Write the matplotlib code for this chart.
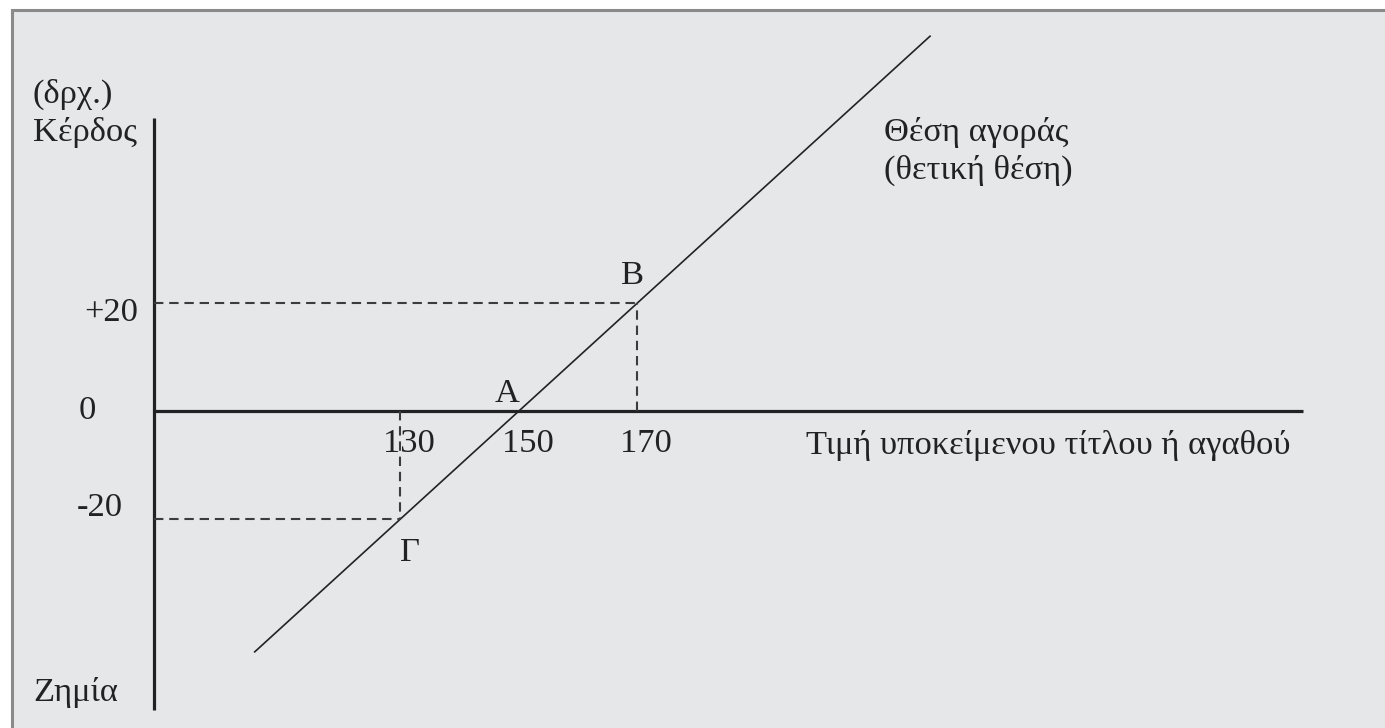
import matplotlib.pyplot as plt
from matplotlib.patches import Rectangle

# payoff of a long position
tick_prices = [130, 150, 170]
tick_profits = [20, 0, -20]
line_prices = [105.4, 219.4]
line_profits = [-44.6, 69.4]
point_labels = ['Γ', 'A', 'B']
point_prices = [130, 150, 170]
point_profits = [-20, 0, 20]

axis_x0 = 88.4     # where the vertical axis sits
axis_x1 = 282.3    # end of the price axis
axis_ytop = 54.3
axis_ybot = -55.4

W, H = 1385, 728
plt.rcParams['font.family'] = ['Liberation Serif', 'DejaVu Serif']
fig = plt.figure(figsize=(W / 100, H / 100), dpi=100)
fig.patch.set_facecolor('white')

bg = '#e6e7e9'
ink = '#222222'
fs = 24.8

def px(x, y):
    return (x / W, 1 - y / H)

# grey panel with border on left and top only (runs off right/bottom)
fig.add_artist(Rectangle(px(12, 740), (W + 20) / W, 730 / H,
                         transform=fig.transFigure, facecolor=bg,
                         edgecolor='#8a8a8a', linewidth=2.2, zorder=-10))

ax = fig.add_axes([0, 0, 1, 1])
ax.set_facecolor('none')
ax.set_xlim(62.4, 296.2)
ax.set_ylim(-58.7, 76.1)
ax.axis('off')

# axes
ax.plot([axis_x0, axis_x0], [axis_ybot, axis_ytop], color=ink, lw=2.3, solid_capstyle='butt')
ax.plot([axis_x0, axis_x1], [0, 0], color=ink, lw=2.3, solid_capstyle='butt')

# payoff line
ax.plot(line_prices, line_profits, color=ink, lw=1.2)

# dashed guides
dash = dict(color='#3c3c3c', lw=1.5, linestyle=(0, (4.5, 2.8)))
for p, v in zip(point_prices, point_profits):
    if v == 0:
        continue
    ax.plot([axis_x0, p], [v, v], **dash)
    ax.plot([p, p], [0, v], **dash)

# tick labels on price axis
for p in tick_prices:
    ax.text(p + 1.5, -6.0, str(p), fontsize=fs, color=ink, ha='center', va='center')

# profit tick labels
ax.text(*px(138, 313), '+20', transform=fig.transFigure, fontsize=fs, color=ink, ha='right', va='center')
ax.text(*px(87, 411), '0', transform=fig.transFigure, fontsize=fs, color=ink, ha='center', va='center')
ax.text(*px(100, 508), '-20', transform=fig.transFigure, fontsize=fs, color=ink, ha='center', va='center')

# point labels
offs = {'Γ': (410, 553), 'A': (507, 394), 'B': (632, 276)}
for lab in point_labels:
    ax.text(*px(*offs[lab]), lab, transform=fig.transFigure, fontsize=fs, color=ink, ha='center', va='center')

# axis captions
ax.text(*px(33, 94), '(δρχ.)', transform=fig.transFigure, fontsize=fs, color=ink, ha='left', va='center')
ax.text(*px(33, 132), 'Κέρδος', transform=fig.transFigure, fontsize=fs, color=ink, ha='left', va='center')
ax.text(*px(33, 692), 'Ζημία', transform=fig.transFigure, fontsize=fs, color=ink, ha='left', va='center')
ax.text(*px(806, 445), 'Τιμή υποκείμενου τίτλου ή αγαθού', transform=fig.transFigure,
        fontsize=fs, color=ink, ha='left', va='center')
ax.text(*px(884, 132), 'Θέση αγοράς', transform=fig.transFigure, fontsize=fs, color=ink, ha='left', va='center')
ax.text(*px(884, 170), '(θετική θέση)', transform=fig.transFigure, fontsize=fs, color=ink, ha='left', va='center')

fig.savefig('out.png', dpi=100, facecolor=fig.get_facecolor())
